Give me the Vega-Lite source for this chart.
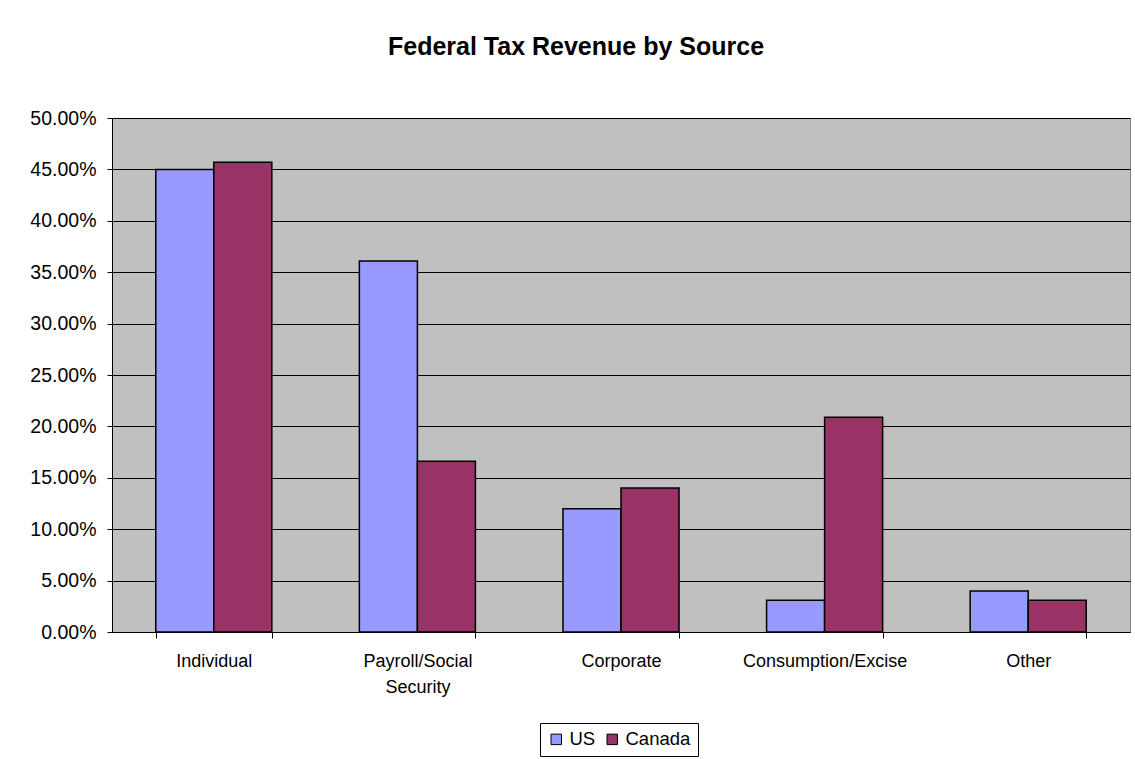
{
  "$schema": "https://vega.github.io/schema/vega-lite/v6.json",
  "autosize": {"type": "none"},
  "padding": {"left": 112, "top": 118, "right": 5, "bottom": 127},
  "width": 1018,
  "height": 514,
  "background": "white",
  "title": {
    "text": "Federal Tax Revenue by Source",
    "font": "Liberation Sans",
    "fontSize": 25,
    "fontWeight": "bold",
    "color": "black",
    "anchor": "middle",
    "frame": "group",
    "dx": -45,
    "offset": 48
  },
  "config": {
    "view": {"fill": "#C0C0C0", "stroke": "#808080", "strokeWidth": 1},
    "font": "Liberation Sans"
  },
  "data": {
    "values": [
      {"source": "Individual", "country": "US", "share": 0.450},
      {"source": "Individual", "country": "Canada", "share": 0.457},
      {"source": "Payroll/Social Security", "country": "US", "share": 0.361},
      {"source": "Payroll/Social Security", "country": "Canada", "share": 0.166},
      {"source": "Corporate", "country": "US", "share": 0.120},
      {"source": "Corporate", "country": "Canada", "share": 0.140},
      {"source": "Consumption/Excise", "country": "US", "share": 0.031},
      {"source": "Consumption/Excise", "country": "Canada", "share": 0.209},
      {"source": "Other", "country": "US", "share": 0.040},
      {"source": "Other", "country": "Canada", "share": 0.031}
    ]
  },
  "mark": {"type": "bar", "stroke": "black", "strokeWidth": 1.5},
  "encoding": {
    "x": {
      "field": "source",
      "type": "nominal",
      "sort": ["Individual", "Payroll/Social Security", "Corporate", "Consumption/Excise", "Other"],
      "scale": {"paddingInner": 0.43, "paddingOuter": 0.215},
      "axis": {
        "title": null,
        "labelAngle": 0,
        "labelFont": "Liberation Sans",
        "labelFontSize": 18,
        "labelColor": "black",
        "labelPadding": 14,
        "labelLineHeight": 26,
        "labelBaseline": "top",
        "tickBand": "extent",
        "tickSize": 6,
        "tickColor": "black",
        "domainColor": "black",
        "domainWidth": 1,
        "grid": false,
        "labelExpr": "datum.label == 'Payroll/Social Security' ? ['Payroll/Social', 'Security'] : datum.label"
      }
    },
    "xOffset": {
      "field": "country",
      "type": "nominal",
      "sort": ["US", "Canada"],
      "scale": {"paddingInner": 0, "paddingOuter": 0}
    },
    "y": {
      "field": "share",
      "type": "quantitative",
      "scale": {"domain": [0, 0.5], "nice": false},
      "axis": {
        "title": null,
        "format": ".2%",
        "values": [0, 0.05, 0.1, 0.15, 0.2, 0.25, 0.3, 0.35, 0.4, 0.45, 0.5],
        "labelFont": "Liberation Sans",
        "labelFontSize": 19.5,
        "labelColor": "black",
        "labelPadding": 11,
        "tickSize": 5,
        "tickColor": "black",
        "domainColor": "black",
        "grid": true,
        "gridColor": "black",
        "gridWidth": 1
      }
    },
    "color": {
      "field": "country",
      "type": "nominal",
      "sort": ["US", "Canada"],
      "scale": {"domain": ["US", "Canada"], "range": ["#9999FF", "#993366"]},
      "legend": {
        "title": null,
        "orient": "none",
        "direction": "horizontal",
        "legendX": 428,
        "legendY": 605,
        "strokeColor": "black",
        "padding": 7,
        "symbolType": "square",
        "symbolSize": 110,
        "symbolStrokeColor": "black",
        "symbolStrokeWidth": 1,
        "labelFont": "Liberation Sans",
        "labelFontSize": 18.5,
        "labelColor": "black",
        "labelOffset": 4,
        "columnPadding": 7
      }
    }
  }
}
